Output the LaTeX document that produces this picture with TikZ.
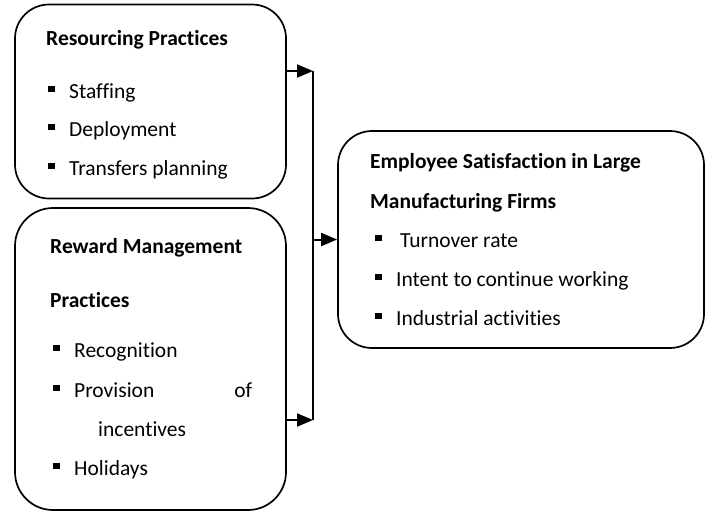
\documentclass[tikz,border=0pt]{standalone}
\usepackage{fontspec}
\setmainfont[Ligatures=NoCommon]{Carlito}
\usetikzlibrary{arrows.meta}
\newcommand\sqbul{\makebox[21pt][l]{\rule[6pt]{6.5pt}{6.5pt}}}

\begin{document}
\begin{tikzpicture}[x=1pt,y=-1pt,
		box/.style={draw, line width=1.7pt, rounded corners=34pt, inner sep=0pt},
		txt/.style={anchor=base west, inner sep=0pt, font=\fontsize{21.5}{26}\selectfont},
		hd/.style={txt, font=\fontsize{21.5}{26}\selectfont\bfseries},
		arr/.style={line width=2pt, -{Triangle[length=16pt,width=13pt]}}]
		%%%%% START %%%%%
		\useasboundingbox (0,0) rectangle (706,512);
		
		\node[box, minimum width=271pt, minimum height=194pt] (res) at (150.5,101.5) {};
		\node[box, minimum width=271pt, minimum height=302pt, rounded corners=38pt] (rew) at (150.5,359) {};
		\node[box, minimum width=366pt, minimum height=217pt] (sat) at (521,239.5) {};
		
		\node[hd] (resT) at (46,45) {Resourcing Practices};
		\node[txt] (res1) at (48,98) {\sqbul Staffing};
		\node[txt] (res2) at (48,136) {\sqbul Deployment};
		\node[txt] (res3) at (48,175) {\sqbul Transfers planning};
		
		\node[hd] (rewT1) at (50,253) {Reward Management};
		\node[hd] (rewT2) at (50,307) {Practices};
		\node[txt] (rew1) at (53,357) {\sqbul Recognition};
		\node[txt] (rew2) at (53,397) {\sqbul\makebox[178pt][l]{Provision\hfill of}};
		\node[txt] (rew3) at (98,436) {incentives};
		\node[txt] (rew4) at (53,475) {\sqbul Holidays};
		
		\node[hd] (satT1) at (370,168) {Employee Satisfaction in Large};
		\node[hd] (satT2) at (370,208) {Manufacturing Firms};
		\node[txt] (sat1) at (375,247) {\sqbul\hspace{4pt}Turnover rate};
		\node[txt] (sat2) at (375,286) {\sqbul Intent to continue working};
		\node[txt] (sat3) at (375,325) {\sqbul Industrial activities};
		
		\coordinate (busT) at (313,71);
		\coordinate (busB) at (313,420);
		\draw[line width=1.4pt] (busT) -- (busB);
		\draw[arr] (res.east |- busT) -- (busT);
		\draw[arr] (rew.east |- busB) -- (busB);
		\draw[arr] (busT |- sat.west) -- (sat.west);
		
		%%%%% END %%%%%
	\end{tikzpicture}
\end{document}
